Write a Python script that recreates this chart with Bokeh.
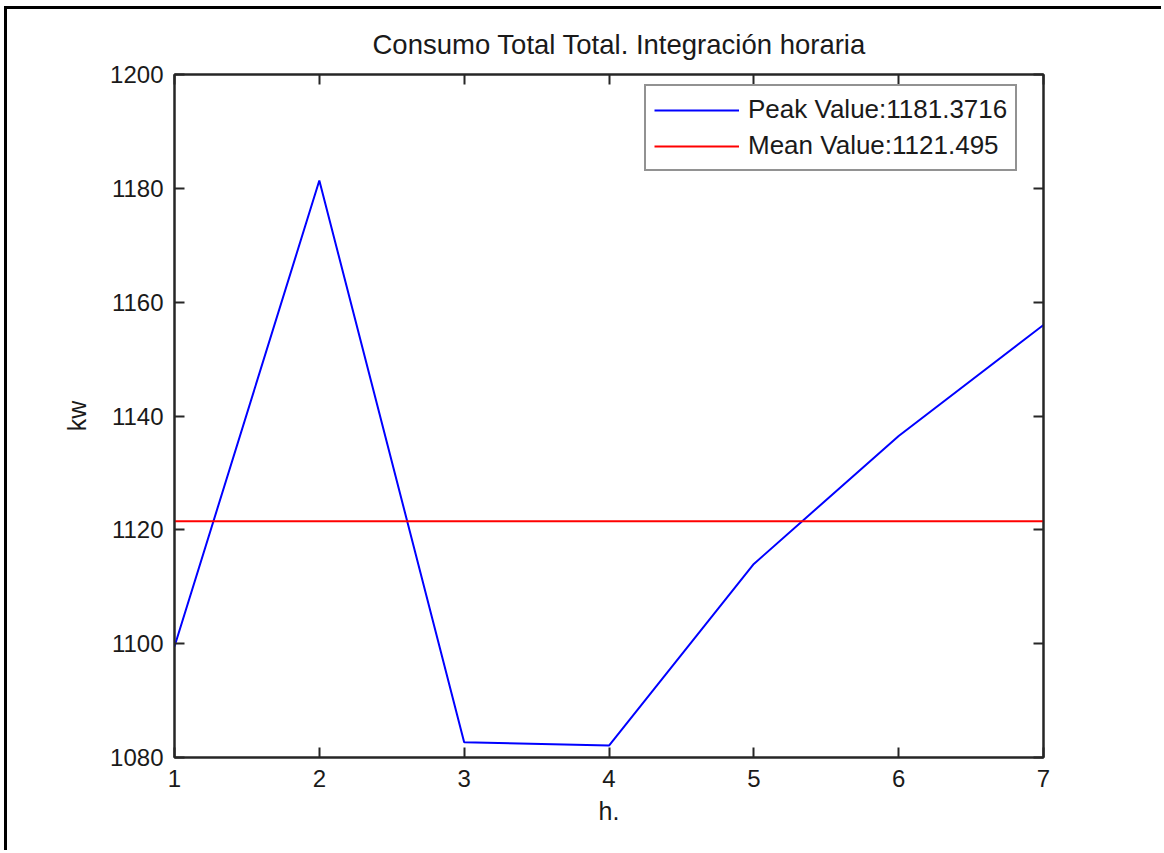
from bokeh.plotting import figure
from bokeh.models import Range1d, LinearAxis, FixedTicker
from bokeh.embed import file_html
from bokeh.resources import INLINE

# ---- data ----
hours = [1, 2, 3, 4, 5, 6, 7]
consumption_kw = [1099.5, 1181.3716, 1082.7, 1082.1, 1114.0, 1136.5, 1156.0]
peak_value = 1181.3716
mean_value = 1121.495
x_ticks = [1, 2, 3, 4, 5, 6, 7]
y_ticks = [1080, 1100, 1120, 1140, 1160, 1180, 1200]
title_text = "Consumo Total Total. Integración horaria"
x_label = "h."
y_label = "kw"

FONT = "Liberation Sans"
INK = "#262626"

p = figure(
    width=1157, height=844,
    x_range=Range1d(1, 7), y_range=Range1d(1080, 1200),
    output_backend="svg", toolbar_location=None,
    min_border_left=167, min_border_right=121,
    min_border_top=65, min_border_bottom=96,
    background_fill_color="white", border_fill_color="white",
)
p.styles = {
    "margin-top": "6px", "border-top": "3px solid black",
    "margin-left": "4px", "border-left": "3px solid black",
}

p.grid.visible = False
p.outline_line_color = INK
p.outline_line_width = 2

p.line(hours, consumption_kw, line_color="#0000FF", line_width=2,
       legend_label=f"Peak Value:{peak_value}")
p.line([hours[0], hours[-1]], [mean_value, mean_value], line_color="#FF0000",
       line_width=2, legend_label=f"Mean Value:{mean_value}")

def style_axis(ax, show_labels=True):
    ax.major_tick_in = 10
    ax.major_tick_out = 0
    ax.minor_tick_line_color = None
    ax.axis_line_color = INK
    ax.axis_line_width = 2
    ax.major_tick_line_color = INK
    ax.major_tick_line_width = 2
    ax.major_label_text_font = FONT
    if show_labels:
        ax.major_label_text_font_size = "24px"
        ax.major_label_text_color = "#1a1a1a"
    else:
        ax.major_label_text_font_size = "0px"
        ax.major_label_text_color = None
        ax.major_label_standoff = 0

xa = p.xaxis[0]
ya = p.yaxis[0]
xa.ticker = FixedTicker(ticks=x_ticks)
ya.ticker = FixedTicker(ticks=y_ticks)
style_axis(xa)
style_axis(ya)
xa.major_label_standoff = 12
ya.major_label_standoff = 11
xa.axis_label = x_label
ya.axis_label = y_label
for ax in (xa, ya):
    ax.axis_label_text_font = FONT
    ax.axis_label_text_font_size = "25px"
    ax.axis_label_text_font_style = "normal"
    ax.axis_label_text_color = "#1a1a1a"
xa.axis_label_standoff = 7
ya.axis_label_standoff = 16

right_axis = LinearAxis(ticker=FixedTicker(ticks=y_ticks))
style_axis(right_axis, show_labels=False)
p.add_layout(right_axis, "right")
top_axis = LinearAxis(ticker=FixedTicker(ticks=x_ticks))
style_axis(top_axis, show_labels=False)
p.add_layout(top_axis, "above")

p.title.text = title_text
p.title.align = "left"
p.title.offset = 198
p.title.text_font = FONT
p.title.text_font_size = "27.5px"
p.title.text_font_style = "normal"
p.title.text_color = "#1a1a1a"
p.title.standoff = 30

lg = p.legend[0]
lg.location = (470, 586)
lg.margin = 0
lg.padding = 8
lg.spacing = 5
lg.glyph_width = 85
lg.glyph_height = 30
lg.label_standoff = 9
lg.label_text_font = FONT
lg.label_text_font_size = "26px"
lg.label_text_color = "#1a1a1a"
lg.border_line_color = INK
lg.border_line_width = 2
lg.background_fill_alpha = 1.0

open("out.html", "w").write(file_html(p, INLINE))
